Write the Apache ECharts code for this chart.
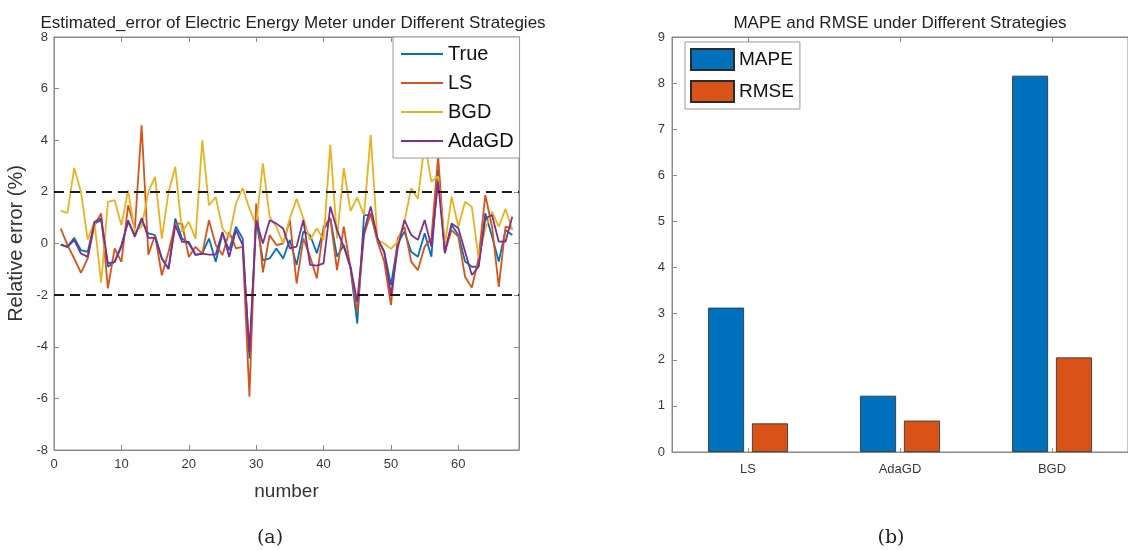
<!DOCTYPE html>
<html>
<head>
<meta charset="utf-8">
<script src="https://cdn.jsdelivr.net/npm/echarts@6/dist/echarts.min.js"></script>
<style>
html,body{margin:0;padding:0;background:#fff;}
#c{width:1128px;height:550px;}
</style>
</head>
<body>
<div id="c"></div>
<script>
// ---- Left chart data (relative error %, samples 1..68) ----
const trueVals = [-0.04,-0.13,0.22,-0.26,-0.32,0.77,0.9,-0.9,-0.71,-0.06,0.84,0.32,0.9,0.39,0.32,-0.58,-0.97,0.97,0.19,0,
  -0.45,-0.39,0.19,-0.71,0.39,-0.26,0.65,0.19,-4.45,0.9,-0.65,-0.58,-0.19,-0.58,0.14,-0.83,0.46,0.33,-0.38,0.52,
  0.98,-0.51,-0.06,-0.96,-3.1,1.1,1.1,0.2,-0.32,-1.61,0,0.46,-0.32,-0.51,0.4,-0.51,2.85,-0.32,0.72,0.33,
  -0.7,-0.9,-0.9,1.17,0.27,-0.7,0.52,0.33];
const lsVals = [0.58,-0.06,-0.58,-1.14,-0.58,0.71,1.16,-1.74,-0.19,-0.71,1.48,0.58,4.58,-0.43,0.32,-1.23,-0.32,0.77,0.77,-0.52,
  -0.13,-0.39,0.9,-0.06,-0.45,0.45,-0.19,-0.13,-5.94,1.55,-1.12,0.32,-0.06,0,0.91,-1.55,0.2,-0.51,-1.35,0.65,
  0.98,-1.03,0.65,-0.96,-2.65,0.33,1.17,0.07,-0.7,-2.39,0.2,0.65,-0.7,-1.03,-0.12,0.2,3.4,-0.32,0.52,0.27,
  -1.29,-1.71,-0.58,1.88,0.65,-1.68,0.65,0.59];
const bgdVals = [1.26,1.19,2.93,2.0,0.15,0.84,-1.52,1.61,1.68,0.71,2.06,0.45,0.65,2.0,2.58,0.19,2.0,2.97,0.45,0.84,
  0.19,4.0,1.48,1.8,0.58,0.26,1.55,2.15,1.35,0.71,3.1,1.03,0.65,0,0.98,1.73,0.98,0.14,0.59,0.14,
  3.82,0.2,2.92,1.26,1.78,1.1,4.2,0.14,0,-0.21,0.07,0.85,2.14,1.73,3.9,2.4,2.6,-0.06,1.81,0.65,
  1.62,1.42,-0.58,0.59,1.23,0.65,1.34,0.52];
const adaVals = [-0.04,-0.13,0.13,-0.39,-0.52,0.84,0.97,-0.77,-0.71,-0.13,0.9,0.26,0.99,0.22,0.22,-0.58,-0.99,0.71,0.06,0.06,
  -0.43,-0.39,-0.43,-0.43,0.45,-0.52,0.52,-0.06,-4.2,0.9,0,0.9,0.77,0.58,-0.19,-0.12,0.91,-0.83,-0.86,-0.77,
  1.43,0.52,-0.12,-0.9,-2.26,0.46,1.43,0.2,-0.32,-2.0,-0.19,0.91,0.33,0.14,0.91,-0.12,2.4,-0.38,0.78,0.59,
  -0.32,-1.22,-0.9,0.98,1.1,0.07,0.07,1.04];
const thresholds = [2, -2];

// ---- Right chart data ----
const strategies = ['LS', 'AdaGD', 'BGD'];
const mapeVals = [3.13, 1.22, 8.16];
const rmseVals = [0.62, 0.68, 2.05];

const colors = { True: '#0072BD', LS: '#D95319', BGD: '#EDB120', AdaGD: '#7E2F8E' };
const pairs = arr => arr.map((v, i) => [i + 1, v]);

const axisGray = '#8a8a8a';
const labelGray = '#3a3a3a';
const font = 'Liberation Sans, Arial, sans-serif';

function lineSeries(name, vals, extra) {
  return Object.assign({
    name: name, type: 'line', xAxisIndex: 0, yAxisIndex: 0,
    data: pairs(vals), symbol: 'none', showSymbol: false,
    lineStyle: { width: 1.8, color: colors[name] }, itemStyle: { color: colors[name] },
    emphasis: { disabled: true }
  }, extra || {});
}

const chart = echarts.init(document.getElementById('c'), null, { renderer: 'canvas' });
chart.setOption({
  animation: false,
  textStyle: { fontFamily: font },
  title: [
    { text: 'Estimated_error of Electric Energy Meter under Different Strategies', left: 288, top: 10, textAlign: 'center',
      textStyle: { fontSize: 17, fontWeight: 'normal', color: '#222', fontFamily: font } },
    { text: 'MAPE and RMSE under Different Strategies', left: 895, top: 10, textAlign: 'center',
      textStyle: { fontSize: 17, fontWeight: 'normal', color: '#222', fontFamily: font } },
    { text: '(a)', left: 265, top: 524, textAlign: 'center',
      textStyle: { fontSize: 19, fontWeight: 'normal', color: '#222', fontFamily: 'DejaVu Serif, Liberation Serif, serif' } },
    { text: '(b)', left: 886, top: 524, textAlign: 'center',
      textStyle: { fontSize: 19, fontWeight: 'normal', color: '#222', fontFamily: 'DejaVu Serif, Liberation Serif, serif' } }
  ],
  legend: [
    { id: 'lg0', data: ['True', 'LS', 'BGD', 'AdaGD'], orient: 'vertical', left: 393, top: 37,
      backgroundColor: '#fff', borderColor: '#9a9a9a', borderWidth: 1, padding: [7, 6, 7, 8],
      itemGap: 9, itemWidth: 42, itemHeight: 2, icon: 'rect',
      textStyle: { fontSize: 20, color: '#111', fontFamily: font, lineHeight: 20 }, selectedMode: false },
    { id: 'lg1', data: ['MAPE', 'RMSE'], orient: 'vertical', left: 685, top: 42,
      backgroundColor: '#fff', borderColor: '#9a9a9a', borderWidth: 1, padding: [6, 6, 6, 5],
      itemGap: 9, itemWidth: 43, itemHeight: 21, icon: 'rect',
      textStyle: { fontSize: 19, color: '#111', fontFamily: font }, selectedMode: false }
  ],
  grid: [
    { left: 54, top: 37, width: 465, height: 413, show: true, borderColor: axisGray, borderWidth: 1, backgroundColor: '#fff' },
    { left: 672, top: 37, width: 469, height: 415, show: true, borderColor: axisGray, borderWidth: 1, backgroundColor: '#fff' }
  ],
  xAxis: [
    { type: 'value', gridIndex: 0, min: 0, max: 69, interval: 10, name: 'number', nameLocation: 'middle', nameGap: 32,
      nameTextStyle: { fontSize: 19, color: '#333', fontFamily: font },
      axisLine: { show: true, onZero: false, lineStyle: { color: axisGray } },
      axisTick: { show: true, inside: true, length: 5, lineStyle: { color: axisGray } },
      axisLabel: { fontSize: 13, color: labelGray, margin: 8, showMaxLabel: false },
      splitLine: { show: false } },
    { type: 'value', gridIndex: 0, position: 'top', min: 0, max: 69, interval: 10,
      axisLine: { show: true, onZero: false, lineStyle: { color: axisGray } },
      axisTick: { show: true, inside: true, length: 5, lineStyle: { color: axisGray } },
      axisLabel: { show: false }, splitLine: { show: false } },
    { type: 'category', gridIndex: 1, data: strategies,
      axisLine: { show: true, onZero: false, lineStyle: { color: axisGray } },
      axisTick: { show: true, inside: true, length: 4, alignWithLabel: true, lineStyle: { color: axisGray } },
      axisLabel: { fontSize: 13, color: labelGray, margin: 11 }, splitLine: { show: false } },
    { type: 'category', gridIndex: 1, data: strategies, position: 'top',
      axisLine: { show: true, onZero: false, lineStyle: { color: axisGray } },
      axisTick: { show: true, inside: true, length: 5, alignWithLabel: true, lineStyle: { color: axisGray } },
      axisLabel: { show: false }, splitLine: { show: false } }
  ],
  yAxis: [
    { type: 'value', gridIndex: 0, min: -8, max: 8, interval: 2, name: 'Relative error (%)', nameLocation: 'middle', nameGap: 28,
      nameTextStyle: { fontSize: 20, color: '#333', fontFamily: font },
      axisLine: { show: true, onZero: false, lineStyle: { color: axisGray } },
      axisTick: { show: true, inside: true, length: 5, lineStyle: { color: axisGray } },
      axisLabel: { fontSize: 13, color: labelGray, margin: 6 }, splitLine: { show: false } },
    { type: 'value', gridIndex: 0, position: 'right', min: -8, max: 8, interval: 2,
      axisLine: { show: true, onZero: false, lineStyle: { color: axisGray } },
      axisTick: { show: true, inside: true, length: 5, lineStyle: { color: axisGray } },
      axisLabel: { show: false }, splitLine: { show: false } },
    { type: 'value', gridIndex: 1, min: 0, max: 9, interval: 1,
      axisLine: { show: true, onZero: false, lineStyle: { color: axisGray } },
      axisTick: { show: true, inside: true, length: 5, lineStyle: { color: axisGray } },
      axisLabel: { fontSize: 13, color: labelGray, margin: 7 }, splitLine: { show: false } }
  ],
  series: [
    lineSeries('True', trueVals),
    lineSeries('LS', lsVals),
    lineSeries('BGD', bgdVals),
    lineSeries('AdaGD', adaVals, {
      markLine: {
        silent: true, symbol: ['none', 'none'], label: { show: false },
        lineStyle: { color: '#1a1a1a', width: 2, type: [10, 6] },
        emphasis: { disabled: true },
        data: thresholds.map(t => ({ yAxis: t }))
      }
    }),
    { name: 'MAPE', type: 'bar', xAxisIndex: 2, yAxisIndex: 2, data: mapeVals, barWidth: 36, barGap: '22%',
      itemStyle: { color: '#0072BD', borderColor: '#2b2b2b', borderWidth: 0.8 }, emphasis: { disabled: true } },
    { name: 'RMSE', type: 'bar', xAxisIndex: 2, yAxisIndex: 2, data: rmseVals, barWidth: 36, barGap: '22%',
      itemStyle: { color: '#D95319', borderColor: '#2b2b2b', borderWidth: 0.8 }, emphasis: { disabled: true } }
  ]
});
</script>
</body>
</html>
